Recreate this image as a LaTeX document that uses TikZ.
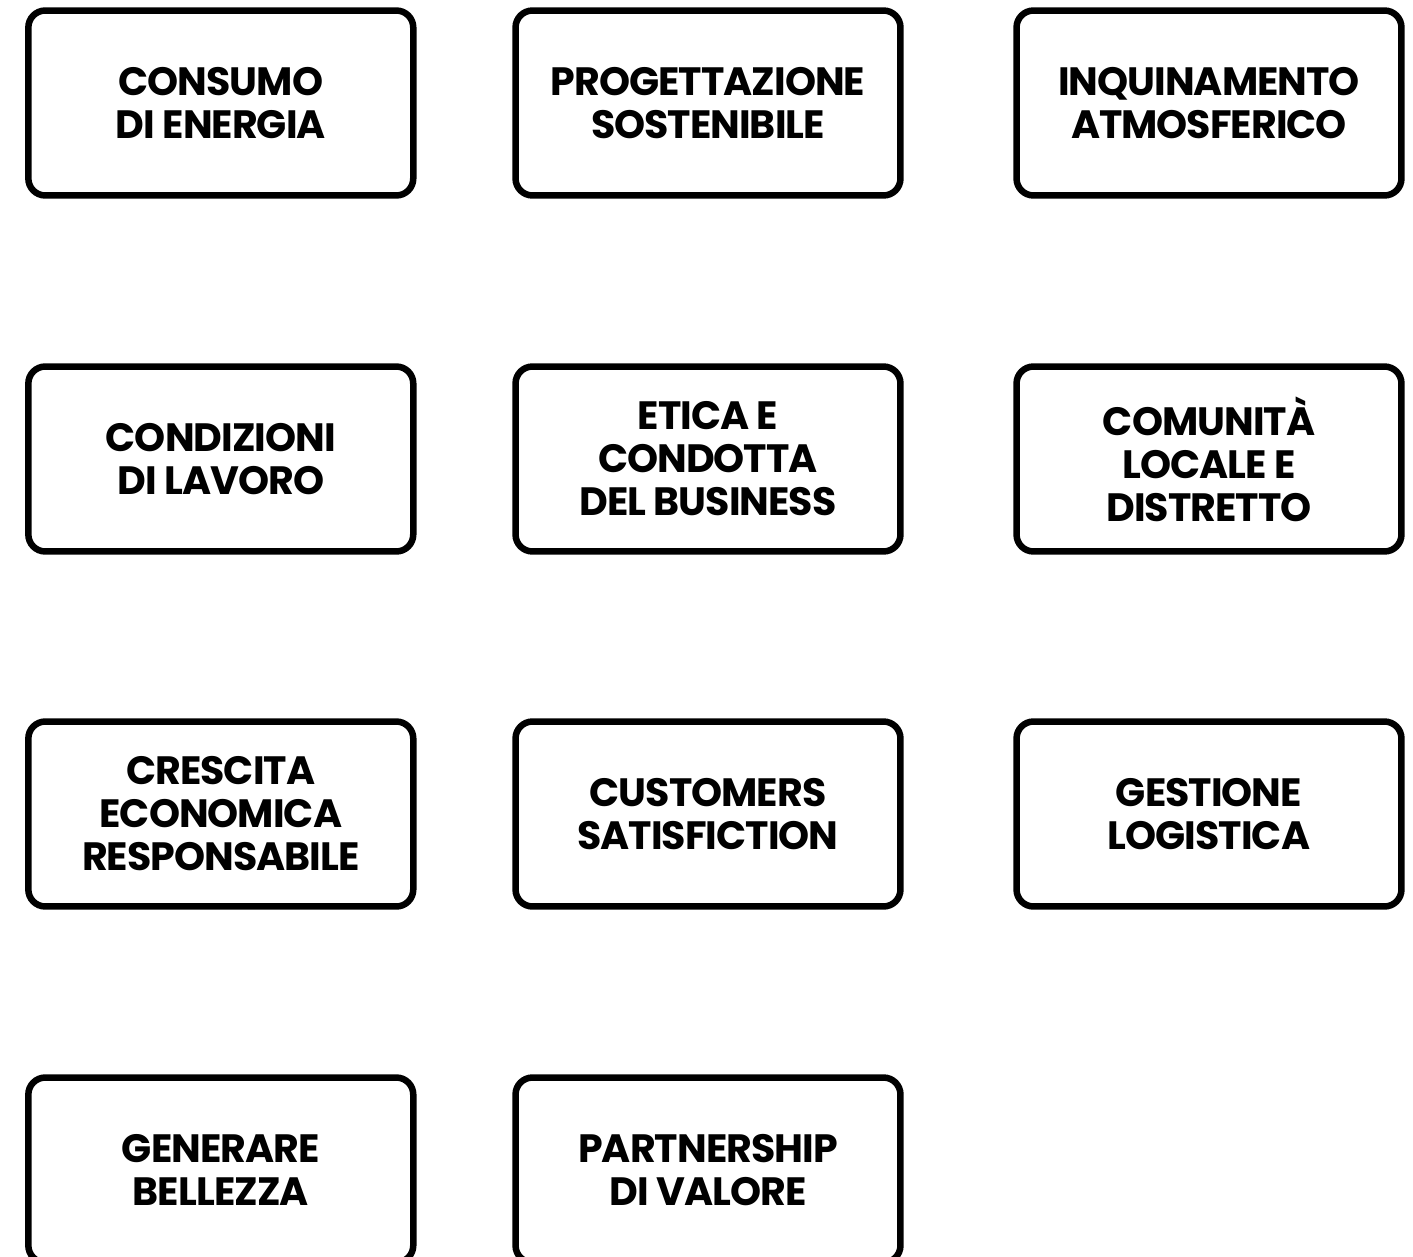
\documentclass[tikz,border=0pt]{standalone}
\usepackage{fontspec}
\setmainfont{Poppins}[LetterSpace=-2.5]
\usepackage{tikz}
\usetikzlibrary{positioning}
\tikzstyle{topic} = [rectangle, rounded corners=0.34cm, minimum width=7.7cm, minimum height=3.7cm, line width=0.13cm, draw=black, fill=white, align=center, text centered, font=\fontsize{22.5}{24.5}\selectfont\bfseries]

\begin{document}
\begin{tikzpicture}[x=0.02cm, y=-0.02cm]
            \useasboundingbox (0,0) rectangle (1413,1257);
            \clip (0,0) rectangle (1413,1257);
            \node[topic] (energia) at (220.8,103) {CONSUMO\\DI ENERGIA};
            \node[topic] (progettazione) at (708,103) {PROGETTAZIONE\\SOSTENIBILE};
            \node[topic] (inquinamento) at (1209,103) {INQUINAMENTO\\ATMOSFERICO};
            \node[topic] (lavoro) at (220.8,459) {CONDIZIONI\\DI LAVORO};
            \node[topic] (etica) at (708,459) {ETICA E\\CONDOTTA\\DEL BUSINESS};
            \node[topic] (comunita) at (1209,459) {COMUNITÀ\\LOCALE E\\DISTRETTO};
            \node[topic] (crescita) at (220.8,814) {CRESCITA\\ECONOMICA\\RESPONSABILE};
            \node[topic] (customers) at (708,814) {CUSTOMERS\\SATISFICTION};
            \node[topic] (logistica) at (1209,814) {GESTIONE\\LOGISTICA};
            \node[topic] (bellezza) at (220.8,1170) {GENERARE\\BELLEZZA};
            \node[topic] (partnership) at (708,1170) {PARTNERSHIP\\DI VALORE};
        \end{tikzpicture}
\end{document}
